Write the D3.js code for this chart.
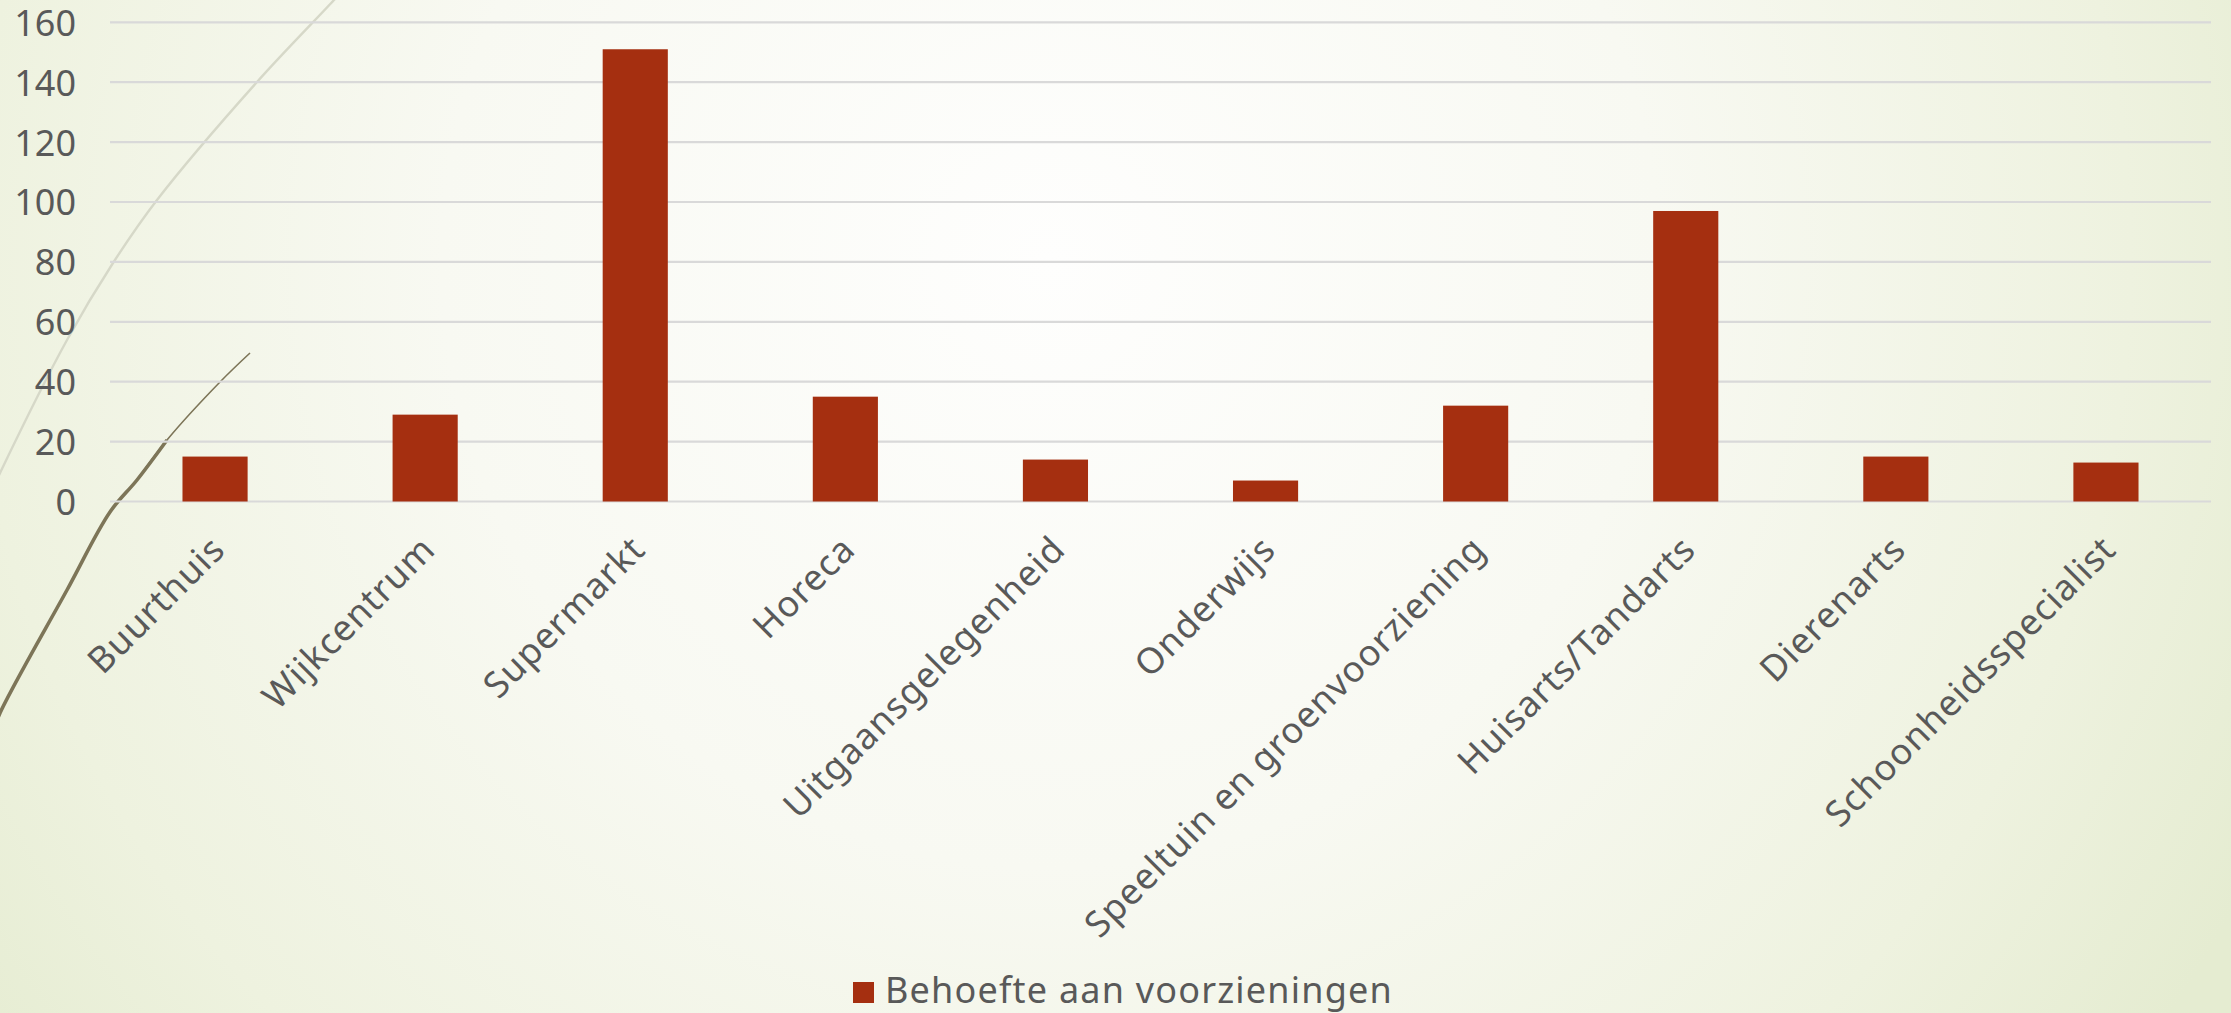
<!DOCTYPE html>
<html>
<head>
<meta charset="utf-8">
<script src="https://cdn.jsdelivr.net/npm/d3@7"></script>
<style>
  html, body { margin: 0; padding: 0; overflow: hidden; }
  body { width: 2231px; height: 1013px; }
  svg { display: block; }
  text { font-family: "Noto Sans", "DejaVu Sans", sans-serif; fill: #595959; }
</style>
</head>
<body>
<svg id="chart" width="2231" height="1013"></svg>
<script>
const categories = ["Buurthuis", "Wijkcentrum", "Supermarkt", "Horeca", "Uitgaansgelegenheid",
  "Onderwijs", "Speeltuin en groenvoorziening", "Huisarts/Tandarts", "Dierenarts", "Schoonheidsspecialist"];
const values = [15, 29, 151, 35, 14, 7, 32, 97, 15, 13];
const yTicks = [0, 20, 40, 60, 80, 100, 120, 140, 160];
const seriesName = "Behoefte aan voorzieningen";

const W = 2231, H = 1013;
const svg = d3.select("#chart");

// background
const defs = svg.append("defs");
const bg = defs.append("radialGradient").attr("id", "bg")
  .attr("gradientUnits", "userSpaceOnUse")
  .attr("cx", 1050).attr("cy", 260).attr("r", 1350);
bg.append("stop").attr("offset", 0).attr("stop-color", "#fefefd");
bg.append("stop").attr("offset", 0.45).attr("stop-color", "#f8f9f2");
bg.append("stop").attr("offset", 0.8).attr("stop-color", "#eef2df");
bg.append("stop").attr("offset", 1).attr("stop-color", "#e5ecd1");
svg.append("rect").attr("width", W).attr("height", H).attr("fill", "url(#bg)");

// decorative arcs (theme ornament)
const lineGen = d3.line().curve(d3.curveCatmullRom);
svg.append("path")
  .attr("d", lineGen([[352, -20], [334, 0], [257, 82], [157, 200], [113, 263], [67, 340], [0, 473], [-10, 495]]))
  .attr("fill", "none").attr("stroke", "#d6d8c8").attr("stroke-width", 2.4);
svg.append("path")
  .attr("d", lineGen([[250, 353], [220, 382], [167, 440], [137, 480]]))
  .attr("fill", "none").attr("stroke", "#7d7558").attr("stroke-width", 1.6);
svg.append("path")
  .attr("d", lineGen([[167, 440], [137, 480], [110, 512], [67, 590], [0, 713], [-8, 735]]))
  .attr("fill", "none").attr("stroke", "#7d7558").attr("stroke-width", 3.6);

// scales
const x = d3.scaleBand().domain(categories).range([110, 2211])
  .paddingInner(0.69).paddingOuter(0.345);
const y = d3.scaleLinear().domain([0, 160]).range([501.5, 22.3]);

// gridlines
svg.append("g").selectAll("line").data(yTicks).join("line")
  .attr("x1", 110).attr("x2", 2211)
  .attr("y1", d => y(d)).attr("y2", d => y(d))
  .attr("stroke", "#d9d9d9").attr("stroke-width", 2.2);

// y axis labels
const yAxis = d3.axisLeft(y).tickValues(yTicks).tickSize(0).tickPadding(0);
const gy = svg.append("g").attr("transform", "translate(76,0)").call(yAxis);
gy.select(".domain").remove();
gy.selectAll("text")
  .attr("font-size", 36).attr("fill", "#595959")
  .style("font-family", '"Noto Sans", sans-serif')
  .attr("dy", "0.36em");

// bars
svg.append("g").selectAll("rect").data(values).join("rect")
  .attr("x", (d, i) => x(categories[i]))
  .attr("width", x.bandwidth())
  .attr("y", d => y(d))
  .attr("height", d => y(0) - y(d))
  .attr("fill", "#a52f10");

// x labels
const xAxis = d3.axisBottom(x).tickSize(0).tickPadding(0);
const gx = svg.append("g").attr("transform", "translate(0," + y(0) + ")").call(xAxis);
gx.select(".domain").remove();
gx.selectAll("text")
  .attr("font-size", 36).attr("fill", "#595959")
  .style("font-family", '"Noto Sans", sans-serif')
  .style("letter-spacing", "1px")
  .attr("text-anchor", "end")
  .attr("y", 0).attr("dy", 0)
  .attr("transform", "translate(12,50) rotate(-45)");

// legend
const lg = svg.append("g");
lg.append("rect").attr("x", 853).attr("y", 982).attr("width", 21).attr("height", 21).attr("fill", "#a52f10");
lg.append("text").attr("x", 885).attr("y", 1003).attr("font-size", 36)
  .style("letter-spacing", "1.2px").text(seriesName);
</script>
</body>
</html>
